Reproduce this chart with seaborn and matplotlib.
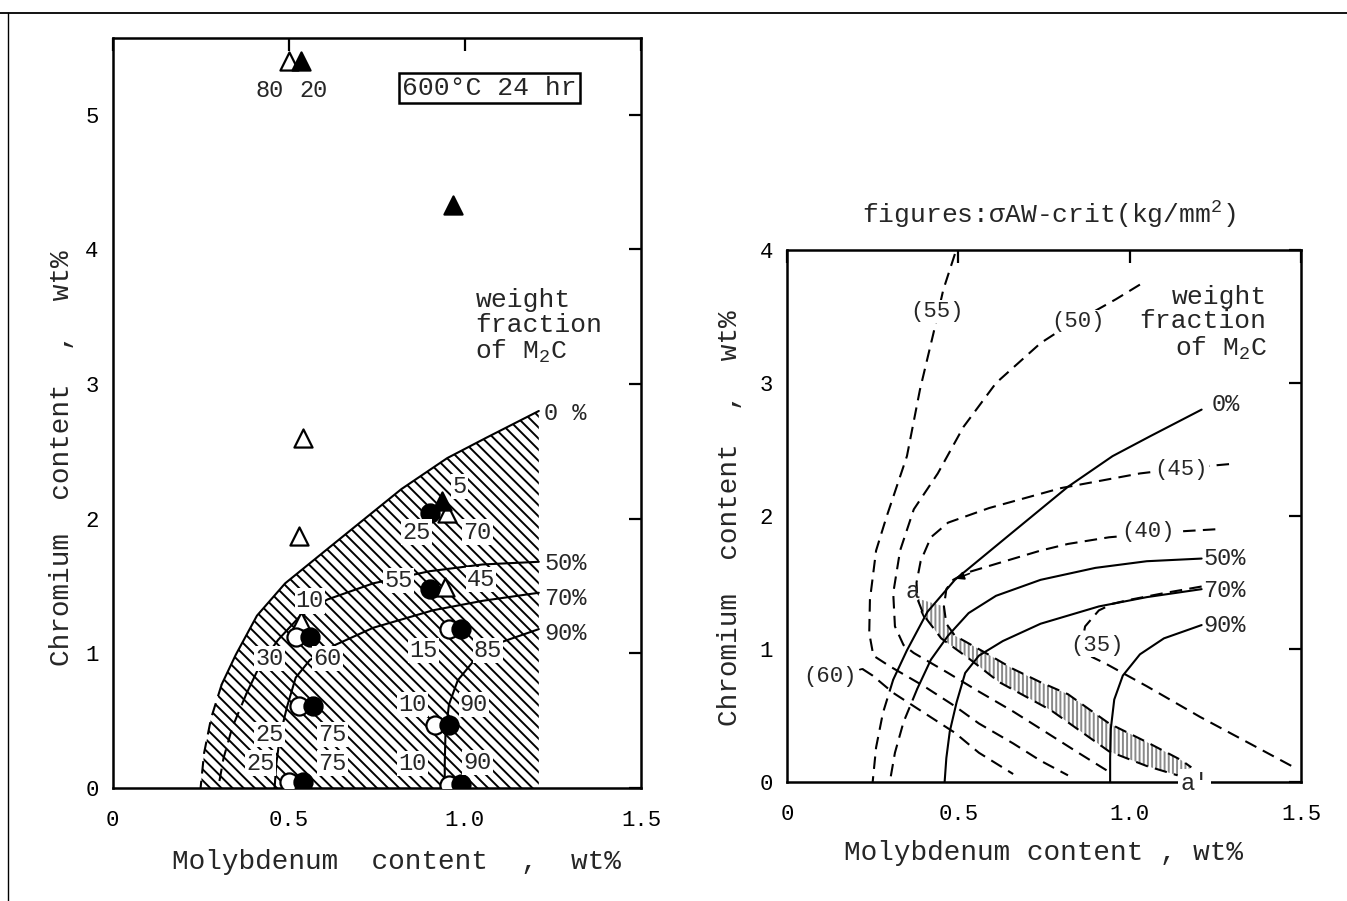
import matplotlib
matplotlib.use("Agg")
import matplotlib.pyplot as plt
from matplotlib.lines import Line2D
import numpy as np
import pandas as pd
import seaborn as sns

# ---------------- data ----------------
# weight fraction of M2C curves (Mo wt%, Cr wt%) - shared by both panels
f0_mo = [1.21, 1.06, 0.95, 0.82, 0.65, 0.49, 0.41, 0.35, 0.31, 0.28, 0.26, 0.25]
f0_cr = [2.80, 2.60, 2.45, 2.22, 1.86, 1.52, 1.28, 0.99, 0.77, 0.52, 0.26, 0.00]
f50_mo = [1.21, 1.05, 0.90, 0.74, 0.61, 0.53, 0.47, 0.42, 0.38, 0.34, 0.315, 0.30]
f50_cr = [1.68, 1.66, 1.61, 1.52, 1.40, 1.27, 1.10, 0.92, 0.70, 0.45, 0.22, 0.00]
f70_mo = [1.21, 1.05, 0.91, 0.74, 0.63, 0.56, 0.52, 0.495, 0.475, 0.465, 0.46]
f70_cr = [1.45, 1.39, 1.32, 1.19, 1.06, 0.95, 0.82, 0.60, 0.38, 0.18, 0.00]
f90_mo = [1.21, 1.10, 1.03, 0.98, 0.955, 0.945, 0.943, 0.943]
f90_cr = [1.18, 1.08, 0.96, 0.80, 0.62, 0.40, 0.18, 0.00]
frac_labels_left = ["0 %", "50%", "70%", "90%"]
frac_labels_right = ["0%", "50%", "70%", "90%"]

# left panel specimens
open_tri_mo = [0.50, 0.54, 0.53, 0.95, 0.945, 0.535]
open_tri_cr = [5.40, 2.60, 1.87, 2.04, 1.49, 1.24]
fill_tri_mo = [0.535, 0.965, 0.935]
fill_tri_cr = [5.40, 4.33, 2.13]
open_cir_mo = [0.52, 0.53, 0.50, 0.955, 0.915, 0.955]
open_cir_cr = [1.12, 0.61, 0.045, 1.18, 0.47, 0.02]
fill_cir_mo = [0.56, 0.57, 0.54, 0.99, 0.955, 0.99, 0.90, 0.90]
fill_cir_cr = [1.12, 0.61, 0.045, 1.18, 0.47, 0.03, 2.04, 1.48]

# numbers written beside specimens (text, Mo, Cr)
spec_txt = ["80", "20", "5", "25", "70", "55", "45", "10", "30", "60", "15", "85",
            "25", "75", "10", "90", "25", "75", "10", "90"]
spec_mo = [0.445, 0.57, 0.985, 0.862, 1.036, 0.811, 1.046, 0.56, 0.445, 0.61, 0.883, 1.066,
           0.445, 0.625, 0.852, 1.026, 0.42, 0.625, 0.852, 1.036]
spec_cr = [5.18, 5.18, 2.24, 1.90, 1.90, 1.54, 1.55, 1.39, 0.96, 0.96, 1.02, 1.02,
           0.395, 0.395, 0.62, 0.62, 0.185, 0.185, 0.18, 0.19]

# right panel: sigma_AW-crit contours (kg/mm2)
c35_mo = [1.21, 1.10, 1.00, 0.95, 0.91, 0.87, 0.86, 0.89, 0.93, 1.05, 1.205, 1.35, 1.48]
c35_cr = [1.47, 1.42, 1.37, 1.34, 1.29, 1.17, 1.04, 0.94, 0.89, 0.72, 0.49, 0.29, 0.11]
c40_mo = [1.25, 1.12, 0.94, 0.82, 0.74, 0.61, 0.52, 0.485, 0.465, 0.458, 0.465, 0.49,
          0.58, 0.66, 0.74, 0.82, 0.94, 1.05, 1.15, 1.18]
c40_cr = [1.90, 1.88, 1.84, 1.79, 1.74, 1.64, 1.57, 1.52, 1.45, 1.32, 1.19, 1.10,
          0.97, 0.85, 0.75, 0.66, 0.44, 0.30, 0.165, 0.11]
c45_mo = [1.29, 1.16, 1.03, 0.80, 0.59, 0.47, 0.42, 0.39, 0.378, 0.38, 0.40, 0.45,
          0.53, 0.62, 0.77, 0.94, 1.05, 1.14]
c45_cr = [2.39, 2.36, 2.32, 2.21, 2.06, 1.95, 1.84, 1.66, 1.50, 1.38, 1.25, 1.08,
          0.93, 0.75, 0.54, 0.23, 0.12, 0.05]
c50_mo = [1.03, 0.96, 0.87, 0.80, 0.74, 0.61, 0.515, 0.44, 0.37, 0.33, 0.31, 0.315,
          0.34, 0.37, 0.47, 0.56, 0.66, 0.74, 0.85, 0.95]
c50_cr = [3.74, 3.63, 3.50, 3.40, 3.30, 3.00, 2.67, 2.32, 2.05, 1.74, 1.42, 1.17,
          1.03, 0.97, 0.82, 0.68, 0.53, 0.40, 0.22, 0.06]
c55_mo = [0.49, 0.456, 0.427, 0.388, 0.35, 0.29, 0.26, 0.242, 0.24, 0.252, 0.30,
          0.40, 0.49, 0.56, 0.66, 0.74, 0.82]
c55_cr = [3.97, 3.70, 3.37, 2.95, 2.45, 1.99, 1.74, 1.37, 1.12, 0.95, 0.87,
          0.72, 0.57, 0.44, 0.29, 0.16, 0.05]
c60_mo = [0.22, 0.25, 0.31, 0.40, 0.49, 0.56, 0.66]
c60_cr = [0.85, 0.80, 0.67, 0.52, 0.37, 0.22, 0.06]
contour_txt = ["(55)", "(50)", "(45)", "(40)", "(35)"]
contour_mo = [0.437, 0.85, 1.15, 1.054, 0.905]
contour_cr = [3.54, 3.46, 2.35, 1.88, 1.03]

x_ticks = [0, 0.5, 1.0, 1.5]
x_ticklabels = ["0", "0.5", "1.0", "1.5"]

# ---------------- style ----------------
sns.set_theme(style="white")
MONO = ["Liberation Mono", "DejaVu Sans Mono", "DejaVu Sans"]
plt.rcParams["font.family"] = MONO
plt.rcParams["mathtext.fontset"] = "custom"
plt.rcParams["mathtext.rm"] = "Liberation Mono"
plt.rcParams["mathtext.it"] = "Liberation Mono"
plt.rcParams["hatch.linewidth"] = 1.4
plt.rcParams["axes.edgecolor"] = "black"

W, H = 1347, 901
fig = plt.figure(figsize=(W / 100, H / 100), dpi=100)
fig.patch.set_facecolor("white")


def fx(px):
    return px / W


def fy(py):
    return 1 - py / H


axL = fig.add_axes([fx(112.5), fy(788), (641 - 112.5) / W, (788 - 38) / H])
axR = fig.add_axes([fx(787), fy(782), (1301 - 787) / W, (782 - 250) / H])

DASH = (0, (6, 3.5))


def curve(ax, mo, cr, style="-", lw=1.5, color="black", z=3):
    sns.lineplot(x=list(mo), y=list(cr), sort=False, estimator=None, ax=ax,
                 color=color, linewidth=lw, linestyle=style, legend=False, zorder=z)


def frac_curves(ax):
    curve(ax, f0_mo[:9], f0_cr[:9])
    curve(ax, f0_mo[8:], f0_cr[8:], DASH)
    curve(ax, f50_mo[:9], f50_cr[:9])
    curve(ax, f50_mo[8:], f50_cr[8:], DASH)
    curve(ax, f70_mo, f70_cr)
    curve(ax, f90_mo, f90_cr)


# ---------------- left panel ----------------
axL.fill_betweenx(f0_cr, f0_mo, max(f0_mo), facecolor="none", edgecolor="black",
                  hatch="\\\\\\", linewidth=0, zorder=1)
frac_curves(axL)

mk = dict(s=170, linewidth=1.6, edgecolor="black", legend=False, zorder=5)
sns.scatterplot(x=open_tri_mo, y=open_tri_cr, marker="^", color="white", ax=axL, **mk)
sns.scatterplot(x=fill_tri_mo, y=fill_tri_cr, marker="^", color="black", ax=axL, **mk)
sns.scatterplot(x=open_cir_mo, y=open_cir_cr, marker="o", color="white", ax=axL, **mk)
sns.scatterplot(x=fill_cir_mo, y=fill_cir_cr, marker="o", color="black", ax=axL, **mk)

for t, x, y in zip(spec_txt, spec_mo, spec_cr):
    axL.text(x, y, t, ha="center", va="center", fontsize=17, zorder=6,
             bbox=dict(boxstyle="square,pad=0.05", fc="white", ec="none"))

for t, x, y in zip(frac_labels_left, [1.225] * 4, [2.78, 1.67, 1.41, 1.15]):
    axL.text(x, y, t, ha="left", va="center", fontsize=17, zorder=6)

axL.text(1.07, 5.2, "600°C 24 hr", ha="center", va="center", fontsize=19,
         bbox=dict(boxstyle="square,pad=0.12", fc="white", ec="black", lw=1.8))
axL.text(1.03, 3.43, "weight\nfraction\nof M$_2$C", ha="left", va="center",
         fontsize=19, linespacing=1.05)

axL.set_xlim(0, 1.5)
axL.set_ylim(0, 5.57)
axL.set_yticks([0, 1, 2, 3, 4, 5])
axL.set_yticklabels(["0", "1", "2", "3", "4", "5"])

# ---------------- right panel ----------------
band_mo = c40_mo[9:] + c45_mo[9:][::-1]
band_cr = c40_cr[9:] + c45_cr[9:][::-1]
axR.fill(band_mo, band_cr, facecolor="none", edgecolor="#8a8a8a", hatch="||||",
         linewidth=0, zorder=1)
frac_curves(axR)
for mo, cr in [(c35_mo, c35_cr), (c40_mo, c40_cr), (c45_mo, c45_cr),
               (c50_mo, c50_cr), (c55_mo, c55_cr), (c60_mo, c60_cr)]:
    curve(axR, mo, cr, DASH, lw=1.5)

for t, x, y in zip(contour_txt, contour_mo, contour_cr):
    axR.text(x, y, t, ha="center", va="center", fontsize=16, zorder=6,
             bbox=dict(boxstyle="square,pad=0.05", fc="white", ec="none"))

for t, x, y in zip(frac_labels_right, [1.24, 1.215, 1.215, 1.215], [2.84, 1.68, 1.44, 1.18]):
    axR.text(x, y, t, ha="left", va="center", fontsize=17, zorder=6)

axR.annotate("(60)", xy=(c60_mo[0], c60_cr[0]), xytext=(0.125, 0.79), fontsize=16,
             ha="center", va="center", arrowprops=dict(arrowstyle="-", lw=1.3, color="black",
                                                      shrinkA=2, shrinkB=0))
axR.annotate("a", xy=(0.40, 1.24), xytext=(0.365, 1.43), fontsize=17,
             ha="center", va="center", arrowprops=dict(arrowstyle="-", lw=1.3, color="black",
                                                      shrinkA=4, shrinkB=0))
axR.annotate("", xy=(0.485, 1.52), xytext=(0.54, 1.575),
             arrowprops=dict(arrowstyle="-|>", lw=1.2, color="black", mutation_scale=12))
axR.text(1.19, -0.01, "a'", ha="center", va="center", fontsize=17, zorder=7,
         bbox=dict(boxstyle="square,pad=0.1", fc="white", ec="none"))
axR.text(1.40, 3.45, "weight\nfraction\nof M$_2$C", ha="right", va="center",
         fontsize=19, linespacing=1.05)

axR.set_xlim(0, 1.5)
axR.set_ylim(0, 4.0)
axR.set_yticks([0, 1, 2, 3, 4])
axR.set_yticklabels(["0", "1", "2", "3", "4"])

# ---------------- common axis styling ----------------
for ax in (axL, axR):
    ax.set_xticks(x_ticks)
    ax.set_xticklabels(x_ticklabels)
    ax.set_xlabel("")
    ax.set_ylabel("")
    ax.tick_params(direction="in", length=9, width=1.6, top=True, right=True,
                   labelsize=16, pad=10, colors="black")
    ax.tick_params(axis="x", pad=16)
    for sp in ax.spines.values():
        sp.set_visible(True)
        sp.set_linewidth(1.8)
        sp.set_color("black")
    ax.grid(False)
    ax.set_facecolor("white")

# axis titles (typewriter style)
fig.text(fx(396), fy(862), "Molybdenum  content  ,  wt%", ha="center", va="center", fontsize=20)
fig.text(fx(62), fy(458), "Chromium  content  ,  wt%", ha="center", va="center",
         fontsize=20, rotation=90)
fig.text(fx(1043), fy(853), "Molybdenum content , wt%", ha="center", va="center", fontsize=20)
fig.text(fx(730), fy(518), "Chromium  content  ,  wt%", ha="center", va="center",
         fontsize=20, rotation=90)
fig.text(fx(1049), fy(215), "figures:σAW-crit(kg/mm$^2$)", ha="center", va="center",
         fontsize=19)

# scan frame
fig.add_artist(Line2D([0, 1], [fy(13), fy(13)], transform=fig.transFigure, color="black", lw=1.3))
fig.add_artist(Line2D([fx(8), fx(8)], [0, fy(13)], transform=fig.transFigure, color="black", lw=1.0))

fig.savefig("out.png", dpi=100, facecolor="white")
